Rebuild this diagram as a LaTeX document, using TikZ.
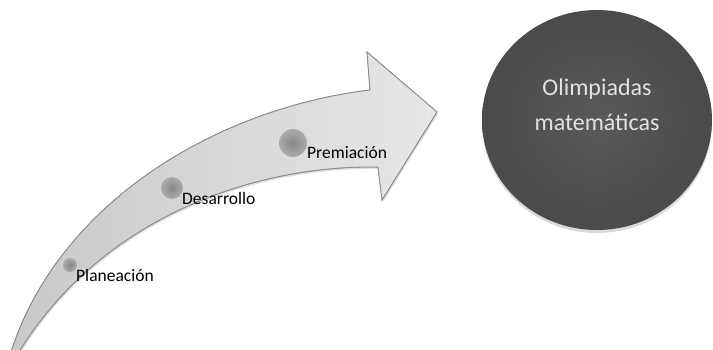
\documentclass[tikz,border=0pt]{standalone}
\usepackage{fontspec}
\setmainfont{Carlito}
\usetikzlibrary{shadows,shapes.geometric}
\definecolor{arrowline}{HTML}{8A8A8A}
\definecolor{bigdisc}{HTML}{474747}
\definecolor{disctext}{HTML}{E2E2E2}
\tikzset{
  stagedot/.style={circle, inner sep=0pt, draw=none, inner color=gray!95, outer color=gray!65},
  stagelabel/.style={anchor=west, inner sep=0pt, font=\fontsize{17.5}{19}\selectfont, text=black},
}
\begin{document}
\begin{tikzpicture}[x=1pt,y=-1pt]
\useasboundingbox (0,0) rectangle (713,350);
% curved arrow
\path[fill=gray!35, draw=arrowline, line width=0.8pt, drop shadow={shadow xshift=1pt, shadow yshift=-2pt, opacity=0.25}]
  (11,352) .. controls (60,200) and (220,108) .. (370,90)
  -- (367,52) -- (437,112) -- (382,200) -- (378,167)
  .. controls (250,165) and (100,220) .. (19,352) -- cycle;
\shade[left color=gray!45, right color=gray!12, opacity=0.7]
  (11,352) .. controls (60,200) and (220,108) .. (370,90)
  -- (367,52) -- (437,112) -- (382,200) -- (378,167)
  .. controls (250,165) and (100,220) .. (19,352) -- cycle;
\draw[arrowline, line width=0.8pt]
  (11,352) .. controls (60,200) and (220,108) .. (370,90)
  -- (367,52) -- (437,112) -- (382,200) -- (378,167)
  .. controls (250,165) and (100,220) .. (19,352);
% stage dots and labels
\node[stagedot, minimum size=14pt] (d1) at (70,265) {};
\node[stagedot, minimum size=22pt] (d2) at (172,188) {};
\node[stagedot, minimum size=28pt] (d3) at (293,143) {};
\node[stagelabel] (l1) at (76,275) {Planeación};
\node[stagelabel] (l2) at (182,198) {Desarrollo};
\node[stagelabel] (l3) at (307,153) {Premiación};
% big disc
\node[ellipse, minimum width=230pt, minimum height=220pt, inner sep=0pt,
      draw=none, inner color=bigdisc!90, outer color=bigdisc!105!black,
      drop shadow={shadow xshift=0pt, shadow yshift=-3pt, opacity=0.3}] (goal) at (597,120) {};
\node[text=disctext, align=center, font=\fontsize{24}{35}\selectfont] (goaltext) at (597,105)
  {Olimpiadas\\matemáticas};
\end{tikzpicture}
\end{document}
